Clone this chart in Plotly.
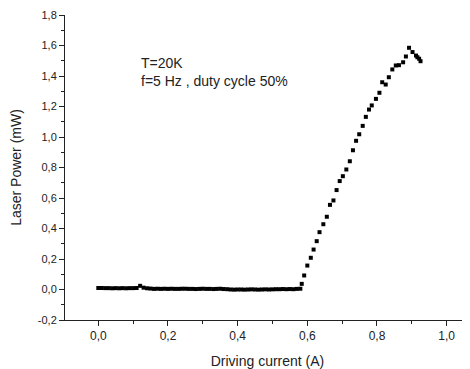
import plotly.graph_objects as go

# flat part below threshold
flat_current = [0.00, 0.01, 0.02, 0.03, 0.04, 0.05, 0.06, 0.07, 0.08, 0.09,
                0.10, 0.11, 0.12, 0.13, 0.14, 0.15, 0.16, 0.17, 0.18, 0.19,
                0.20, 0.21, 0.22, 0.23, 0.24, 0.25, 0.26, 0.27, 0.28, 0.29,
                0.30, 0.31, 0.32, 0.33, 0.34, 0.35, 0.36, 0.37, 0.38, 0.39,
                0.40, 0.41, 0.42, 0.43, 0.44, 0.45, 0.46, 0.47, 0.48, 0.49,
                0.50, 0.51, 0.52, 0.53, 0.54, 0.55, 0.56, 0.57, 0.58]
flat_power = [0.010, 0.010, 0.009, 0.009, 0.008, 0.009, 0.008, 0.009, 0.008, 0.009,
              0.009, 0.010, 0.024, 0.012, 0.008, 0.006, 0.004, 0.005, 0.004, 0.005,
              0.004, 0.005, 0.004, 0.004, 0.005, 0.005, 0.004, 0.004, 0.003, 0.004,
              0.005, 0.004, 0.004, 0.003, 0.004, 0.005, 0.003, 0.002, 0.000, -0.001,
              0.000, 0.000, -0.001, 0.000, 0.001, 0.000, -0.001, 0.000, 0.001, 0.000,
              0.001, 0.002, 0.002, 0.003, 0.002, 0.003, 0.002, 0.004, 0.005]

# above threshold
rise_current = [0.584, 0.591, 0.600, 0.610, 0.618, 0.627, 0.635, 0.646, 0.656, 0.665,
                0.675, 0.684, 0.693, 0.702, 0.712, 0.722, 0.731, 0.740, 0.749, 0.759,
                0.768, 0.777, 0.785, 0.797, 0.807, 0.815, 0.825, 0.834, 0.844, 0.854,
                0.863, 0.875, 0.883, 0.892, 0.902, 0.912, 0.916, 0.921, 0.925]
rise_power = [0.037, 0.092, 0.157, 0.208, 0.262, 0.317, 0.376, 0.428, 0.477, 0.555,
              0.584, 0.652, 0.711, 0.743, 0.787, 0.841, 0.913, 0.975, 1.018, 1.073,
              1.132, 1.180, 1.207, 1.250, 1.290, 1.359, 1.344, 1.392, 1.443, 1.469,
              1.471, 1.490, 1.528, 1.585, 1.557, 1.534, 1.523, 1.513, 1.497]

x_ticks = [0.0, 0.2, 0.4, 0.6, 0.8, 1.0]
x_labels = ["0,0", "0,2", "0,4", "0,6", "0,8", "1,0"]
y_ticks = [-0.2, 0.0, 0.2, 0.4, 0.6, 0.8, 1.0, 1.2, 1.4, 1.6, 1.8]
y_labels = ["-0,2", "0,0", "0,2", "0,4", "0,6", "0,8", "1,0", "1,2", "1,4", "1,6", "1,8"]

fig = go.Figure()
fig.add_trace(go.Scatter(x=flat_current + rise_current, y=flat_power + rise_power,
                         mode="markers",
                         marker=dict(symbol="square", size=4, color="black")))

# page body has an 8px margin, so the figure is a bit smaller than the window
font = "Liberation Sans, Arial, sans-serif"
fig.update_layout(
    width=462, height=361,
    margin=dict(l=57, r=0, t=7, b=49),
    plot_bgcolor="white", paper_bgcolor="white",
    showlegend=False,
    font=dict(family=font, size=11, color="#222"),
    annotations=[dict(x=0.118, y=1.55, xref="x", yref="y",
                      xanchor="left", yanchor="top", align="left",
                      text="T=20K<br>f=5 Hz , duty cycle 50%",
                      showarrow=False, font=dict(size=14, color="#222"))],
)
fig.update_xaxes(range=[-0.0956, 1.067], tickvals=x_ticks, ticktext=x_labels,
                 automargin=False, tickfont=dict(size=12),
                 showline=True, linecolor="#222", linewidth=1, showgrid=False,
                 zeroline=False, ticks="outside", ticklen=5, tickcolor="#222",
                 minor=dict(dtick=0.1, tick0=0, ticks="outside", ticklen=3, tickcolor="#222"),
                 title=dict(text="Driving current (A)", font=dict(size=14)))
fig.update_yaxes(range=[-0.2, 1.8], tickvals=y_ticks, ticktext=y_labels,
                 automargin=False, tickfont=dict(size=11),
                 showline=True, linecolor="#222", linewidth=1, showgrid=False,
                 zeroline=False, ticks="outside", ticklen=5, tickcolor="#222",
                 minor=dict(dtick=0.1, tick0=0, ticks="outside", ticklen=3, tickcolor="#222"),
                 title=dict(text="Laser Power (mW)", font=dict(size=14)))

fig.write_html("out.html")
